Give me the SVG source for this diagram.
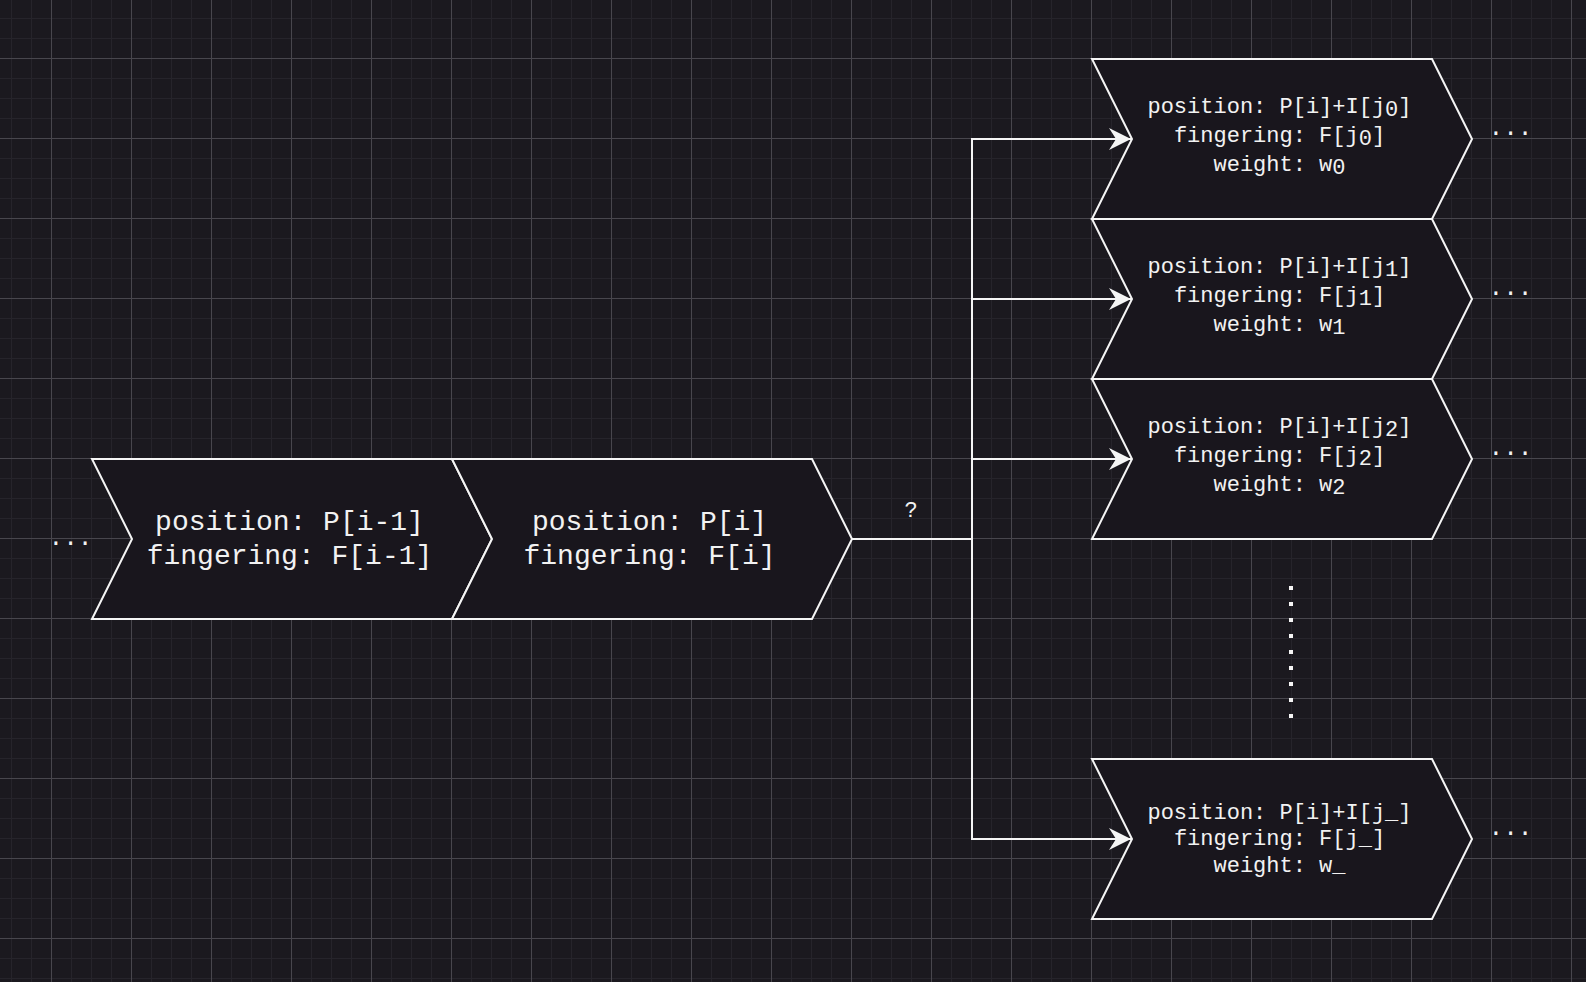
<svg xmlns="http://www.w3.org/2000/svg" width="1586" height="982" viewBox="0 0 1586 982">
  <style>
    .box { fill: #19161d; stroke: #f5f5f5; stroke-width: 2; stroke-linejoin: miter; }
    .big { font-family: "Liberation Mono", "Courier New", monospace; font-size: 28px; fill: #f2f2f2; text-anchor: middle; }
    .sm { font-family: "Liberation Mono", "Courier New", monospace; font-size: 22px; fill: #f2f2f2; text-anchor: middle; }
    .dots { font-family: "Liberation Mono", "Courier New", monospace; font-size: 24.5px; fill: #f2f2f2; text-anchor: middle; }
    .edge { fill: none; stroke: #f5f5f5; stroke-width: 2; }
  </style>
  <defs>
    <pattern id="gminor" patternUnits="userSpaceOnUse" x="11" y="18" width="20" height="20">
      <path d="M0.5 0V20M0 0.5H20" stroke="#26242b" stroke-width="1" fill="none"/>
    </pattern>
    <pattern id="gmajor" patternUnits="userSpaceOnUse" x="51" y="58" width="80" height="80">
      <path d="M0.5 0V80M0 0.5H80" stroke="#48464d" stroke-width="1" fill="none"/>
    </pattern>
    <marker id="arr" markerUnits="userSpaceOnUse" markerWidth="24" markerHeight="24" viewBox="0 0 24 24" refX="22" refY="11" orient="auto">
      <path d="M22 11L0 0L7 11L0 22Z" fill="#f5f5f5"/>
    </marker>
  </defs>
  <rect width="1586" height="982" fill="#1b191f"/>
  <rect width="1586" height="982" fill="url(#gminor)"/>
  <rect width="1586" height="982" fill="url(#gmajor)"/>

  <g id="connectors">
    <path class="edge" d="M852 539H972V139H1131" marker-end="url(#arr)"/>
    <path class="edge" d="M852 539H972V299H1131" marker-end="url(#arr)"/>
    <path class="edge" d="M852 539H972V459H1131" marker-end="url(#arr)"/>
    <path class="edge" d="M852 539H972V839H1131" marker-end="url(#arr)"/>
    <text class="sm" x="911" y="517">?</text>
  </g>

  <g id="node-prev">
    <path class="box" d="M92 459H452L492 539L452 619H92L132 539Z"/>
    <text class="big" x="289.5" y="530">position: P[i-1]</text>
    <text class="big" x="289.5" y="564">fingering: F[i-1]</text>
  </g>
  <text id="dots-left" class="dots" x="70.5" y="545">...</text>

  <g id="node-current">
    <path class="box" d="M452 459H812L852 539L812 619H452L492 539Z"/>
    <text class="big" x="649.5" y="530">position: P[i]</text>
    <text class="big" x="649.5" y="564">fingering: F[i]</text>
  </g>

  <g id="node-j0">
    <path class="box" d="M1092 59H1432L1472 139L1432 219H1092L1132 139Z"/>
    <text class="sm" x="1279.5" y="112.5">position: P[i]+I[j<tspan dy="3.5">0</tspan><tspan dy="-3.5">]</tspan></text>
    <text class="sm" x="1279.5" y="141.5">fingering: F[j<tspan dy="3.5">0</tspan><tspan dy="-3.5">]</tspan></text>
    <text class="sm" x="1279.5" y="170.5">weight: w<tspan dy="3.5">0</tspan></text>
    <text class="dots" x="1510.5" y="135">...</text>
  </g>

  <g id="node-j1">
    <path class="box" d="M1092 219H1432L1472 299L1432 379H1092L1132 299Z"/>
    <text class="sm" x="1279.5" y="272.5">position: P[i]+I[j<tspan dy="3.5">1</tspan><tspan dy="-3.5">]</tspan></text>
    <text class="sm" x="1279.5" y="301.5">fingering: F[j<tspan dy="3.5">1</tspan><tspan dy="-3.5">]</tspan></text>
    <text class="sm" x="1279.5" y="330.5">weight: w<tspan dy="3.5">1</tspan></text>
    <text class="dots" x="1510.5" y="295">...</text>
  </g>

  <g id="node-j2">
    <path class="box" d="M1092 379H1432L1472 459L1432 539H1092L1132 459Z"/>
    <text class="sm" x="1279.5" y="432.5">position: P[i]+I[j<tspan dy="3.5">2</tspan><tspan dy="-3.5">]</tspan></text>
    <text class="sm" x="1279.5" y="461.5">fingering: F[j<tspan dy="3.5">2</tspan><tspan dy="-3.5">]</tspan></text>
    <text class="sm" x="1279.5" y="490.5">weight: w<tspan dy="3.5">2</tspan></text>
    <text class="dots" x="1510.5" y="455">...</text>
  </g>

  <line id="vertical-ellipsis" x1="1291" y1="586" x2="1291" y2="718" stroke="#f5f5f5" stroke-width="4" stroke-dasharray="4 12"/>

  <g id="node-jn">
    <path class="box" d="M1092 759H1432L1472 839L1432 919H1092L1132 839Z"/>
    <text class="sm" x="1279.5" y="818.5">position: P[i]+I[j_]</text>
    <text class="sm" x="1279.5" y="845">fingering: F[j_]</text>
    <text class="sm" x="1279.5" y="871.5">weight: w_</text>
    <text class="dots" x="1510.5" y="835">...</text>
  </g>
</svg>
